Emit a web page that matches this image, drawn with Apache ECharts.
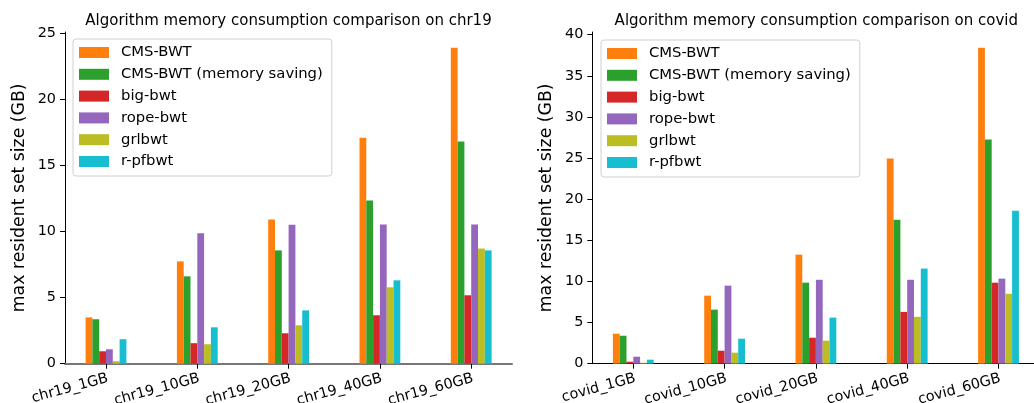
<!DOCTYPE html>
<html>
<head>
<meta charset="utf-8">
<script src="https://cdn.jsdelivr.net/npm/echarts@6/dist/echarts.min.js"></script>
<style>
html,body{margin:0;padding:0;background:#fff;}
#c{width:1034px;height:403px;}
</style>
</head>
<body>
<div id="c"></div>
<script>
const seriesNames = ['CMS-BWT', 'CMS-BWT (memory saving)', 'big-bwt', 'rope-bwt', 'grlbwt', 'r-pfbwt'];
const colors = ['#ff7f0e', '#2ca02c', '#d62728', '#9467bd', '#bcbd22', '#17becf'];

const chr19Categories = ['chr19_1GB', 'chr19_10GB', 'chr19_20GB', 'chr19_40GB', 'chr19_60GB'];
const chr19CmsBwt = [3.5, 7.73, 10.9, 17.07, 23.87];
const chr19CmsBwtMem = [3.36, 6.6, 8.56, 12.33, 16.78];
const chr19BigBwt = [0.94, 1.55, 2.3, 3.66, 5.17];
const chr19RopeBwt = [1.09, 9.85, 10.5, 10.52, 10.52];
const chr19Grlbwt = [0.19, 1.47, 2.9, 5.77, 8.7];
const chr19RPfbwt = [1.85, 2.75, 4.03, 6.3, 8.56];

const covidCategories = ['covid_1GB', 'covid_10GB', 'covid_20GB', 'covid_40GB', 'covid_60GB'];
const covidCmsBwt = [3.65, 8.27, 13.26, 24.94, 38.4];
const covidCmsBwtMem = [3.4, 6.57, 9.85, 17.5, 27.25];
const covidBigBwt = [0.24, 1.58, 3.16, 6.3, 9.85];
const covidRopeBwt = [0.85, 9.49, 10.2, 10.2, 10.34];
const covidGrlbwt = [0.12, 1.34, 2.8, 5.7, 8.5];
const covidRPfbwt = [0.49, 3.04, 5.6, 11.56, 18.6];

const yTicksLeft = [0, 5, 10, 15, 20, 25];
const yTicksRight = [0, 5, 10, 15, 20, 25, 30, 35, 40];
const yMaxLeft = 25.06;
const yMaxRight = 40.32;

const FONT = 'DejaVu Sans';
const chr19Data = [chr19CmsBwt, chr19CmsBwtMem, chr19BigBwt, chr19RopeBwt, chr19Grlbwt, chr19RPfbwt];
const covidData = [covidCmsBwt, covidCmsBwtMem, covidBigBwt, covidRopeBwt, covidGrlbwt, covidRPfbwt];

const chart = echarts.init(document.getElementById('c'), null, {renderer: 'canvas'});

function grid(l, r) {
  return {left: l, right: 1034 - r, top: 32, bottom: 39.3, containLabel: false, outerBoundsMode: 'none'};
}
const grids = [
  grid(60.35, 516.85),   // 0 bars left
  grid(65, 512),         // 1 axes left
  grid(587.65, 1044.15), // 2 bars right
  grid(592.3, 1040.3)    // 3 axes right
];

function catAxis(gridIndex, cats) {
  return {
    type: 'category', gridIndex: gridIndex, data: cats,
    axisLine: {show: false},
    axisTick: {show: true, alignWithLabel: true, length: 5, lineStyle: {color: '#000', width: 1}},
    axisLabel: {rotate: 15, fontFamily: FONT, fontSize: 14.4, color: '#000', margin: 15, interval: 0,
      hideOverlap: false, padding: [0, -2, 0, 0]},
    splitLine: {show: false}
  };
}
function frameX(gridIndex, col, w) {
  return {
    type: 'value', gridIndex: gridIndex, min: 0, max: 1,
    axisLine: {show: true, onZero: false, lineStyle: {color: col, width: w}},
    axisTick: {show: false}, axisLabel: {show: false}, splitLine: {show: false}
  };
}
function hiddenY(gridIndex, max) {
  return {type: 'value', gridIndex: gridIndex, min: 0, max: max, show: false, splitLine: {show: false}};
}
function frameY(gridIndex, max, ticks) {
  return {
    type: 'value', gridIndex: gridIndex, min: 0, max: max,
    name: 'max resident set size (GB)', nameLocation: 'middle', nameGap: 37, nameRotate: 90,
    nameTextStyle: {fontFamily: FONT, fontSize: 17.3, color: '#000'},
    axisLine: {show: true, lineStyle: {color: '#000', width: 1}},
    axisTick: {show: true, length: 5, customValues: ticks, lineStyle: {color: '#000', width: 1}},
    axisLabel: {customValues: ticks, fontFamily: FONT, fontSize: 14.4, color: '#000', margin: 9},
    splitLine: {show: false}
  };
}

const series = [];
seriesNames.forEach((name, i) => {
  series.push({name: name, type: 'bar', xAxisIndex: 0, yAxisIndex: 0, data: chr19Data[i],
    barWidth: 6.8, barGap: '0%', itemStyle: {color: colors[i]}, animation: false});
});
seriesNames.forEach((name, i) => {
  series.push({name: name, type: 'bar', xAxisIndex: 2, yAxisIndex: 2, data: covidData[i],
    barWidth: 6.8, barGap: '0%', itemStyle: {color: colors[i]}, animation: false});
});

function legend(left, top) {
  return {
    data: seriesNames, orient: 'vertical', left: left, top: top,
    itemWidth: 30, itemHeight: 11, itemGap: 4.8, icon: 'rect',
    padding: [5, 9, 6, 6], borderColor: '#d0d0d0', borderWidth: 1, borderRadius: 3,
    backgroundColor: 'rgba(255,255,255,0.8)',
    textStyle: {fontFamily: FONT, fontSize: 14.8, color: '#000', lineHeight: 17, padding: [0, 0, 0, 7]},
    selectedMode: false
  };
}

chart.setOption({
  animation: false,
  title: [
    {text: 'Algorithm memory consumption comparison on chr19', left: 283.5, top: 9, textAlign: 'center',
     textStyle: {fontFamily: FONT, fontSize: 15, fontWeight: 'normal', color: '#000'}},
    {text: 'Algorithm memory consumption comparison on covid', left: 811.3, top: 9, textAlign: 'center',
     textStyle: {fontFamily: FONT, fontSize: 15, fontWeight: 'normal', color: '#000'}}
  ],
  legend: [legend(73, 39), legend(601, 40)],
  grid: grids,
  xAxis: [catAxis(0, chr19Categories), frameX(1, '#777', 2), catAxis(2, covidCategories), frameX(3, '#000', 1)],
  yAxis: [hiddenY(0, yMaxLeft), frameY(1, yMaxLeft, yTicksLeft), hiddenY(2, yMaxRight), frameY(3, yMaxRight, yTicksRight)],
  series: series
});
</script>
</body>
</html>
